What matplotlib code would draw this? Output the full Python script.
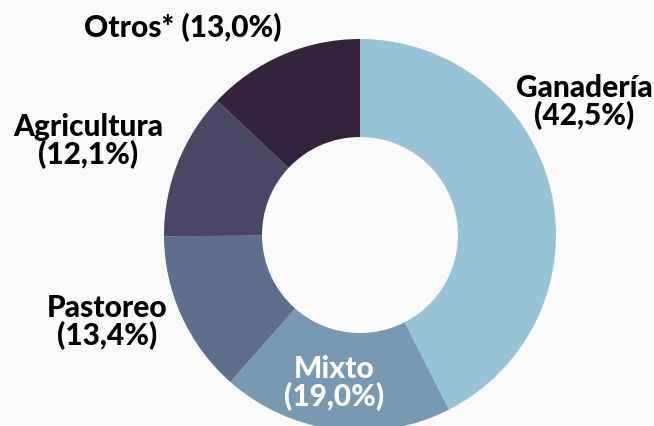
import matplotlib.pyplot as plt

# sector shares (%), clockwise from 12 o'clock
sectores = ["Ganadería", "Mixto", "Pastoreo", "Agricultura", "Otros*"]
porcentajes = [42.5, 19.0, 13.4, 12.1, 13.0]
colores = ["#96c3d5", "#7799b2", "#5e6f8d", "#4a4665", "#35233d"]

W, H = 654, 427
fig = plt.figure(figsize=(W / 100, H / 100), dpi=100)
fig.patch.set_facecolor("#fafafa")
ax = fig.add_axes([0, 0, 1, 1])
ax.set_facecolor("#fafafa")

# centre / radius in pixel units (y measured from bottom)
cx, cy, r = 360, H - 236, 196
ax.pie(porcentajes, colors=colores, startangle=90, counterclock=False,
       radius=r, center=(cx, cy), wedgeprops=dict(width=r / 2, linewidth=0))
ax.set_xlim(0, W)
ax.set_ylim(0, H)
ax.axis("off")


def etiqueta(i, sep="\n"):
    return f"{sectores[i]}{sep}({porcentajes[i]:.1f}%)".replace(".", ",")


# label anchors (pixel coords from top-left) - placed by hand like the original
pos = {
    0: (584, 102, "black", "\n"),
    1: (334, 383, "white", "\n"),
    2: (107, 322, "black", "\n"),
    3: (88, 141, "black", "\n"),
    4: (183, 28, "black", " "),
}
for i, (x, y, c, sep) in pos.items():
    ax.text(x, H - y, etiqueta(i, sep), ha="center", va="center", color=c,
            fontsize=21.5, fontweight="black", family=["Lato", "DejaVu Sans"],
            linespacing=0.95, multialignment="center")

fig.savefig("out.png", dpi=100, facecolor=fig.get_facecolor())
